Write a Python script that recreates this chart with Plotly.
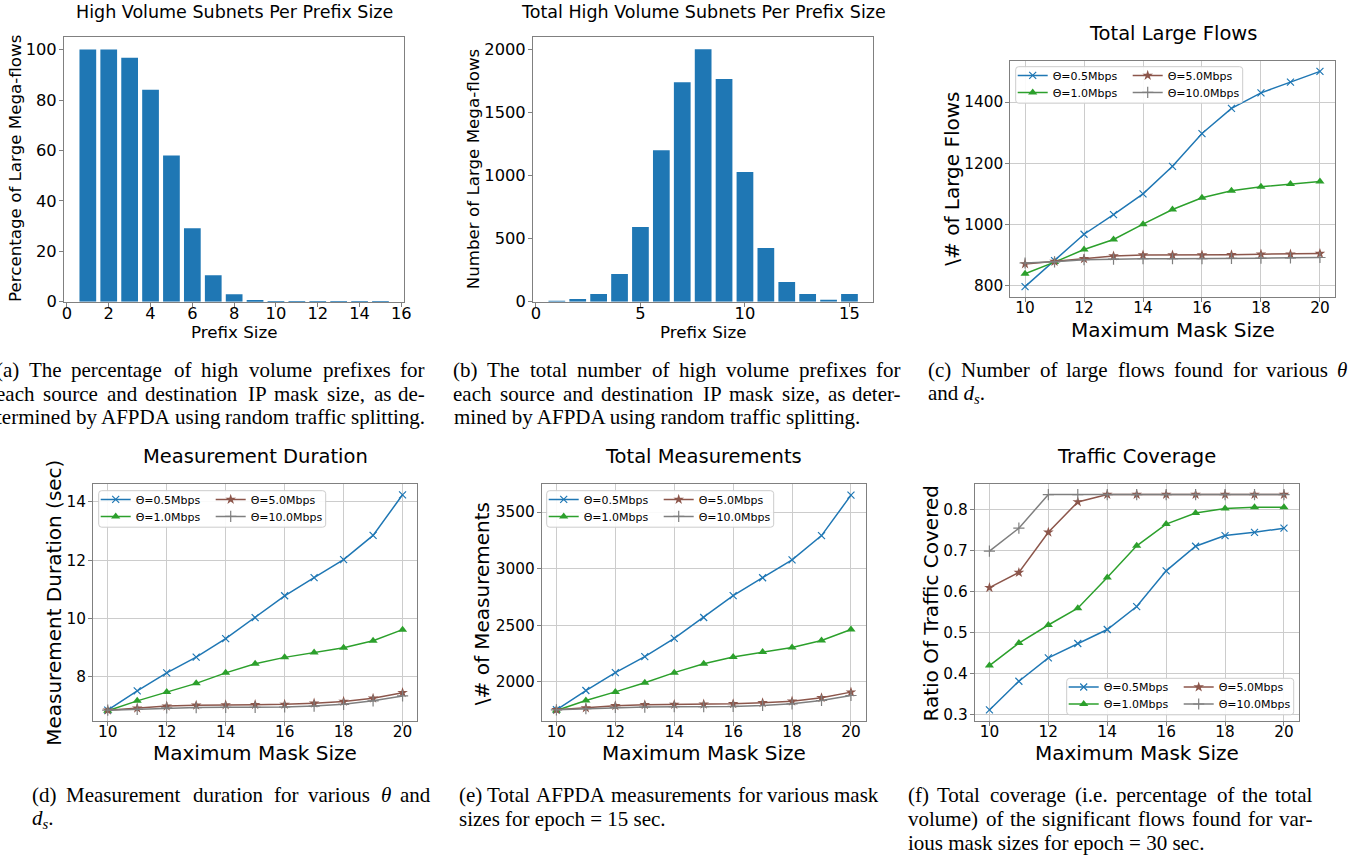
import plotly.graph_objects as go

FIG_W, FIG_H = 1372, 858

# ---------------- data ----------------
prefix_sizes = list(range(1, 16))
pct_large_megaflows = [100, 100, 96.8, 84.1, 58.0, 29.1, 10.5, 3.0, 0.7, 0.2, 0.15, 0.1, 0.1, 0.1, 0.1]
num_large_megaflows = [5, 21, 61, 219, 592, 1201, 1740, 2000, 1764, 1028, 425, 156, 61, 13, 61]

mask_sizes = list(range(10, 21))
theta_names = ["Θ=0.5Mbps", "Θ=1.0Mbps", "Θ=5.0Mbps", "Θ=10.0Mbps"]

flows_05 = [797, 882, 968, 1032, 1100, 1190, 1297, 1379, 1430, 1465, 1500]
flows_10 = [839, 877, 918, 951, 1001, 1049, 1087, 1110, 1123, 1132, 1140]
flows_50 = [871, 879, 888, 897, 900, 900, 900, 901, 903, 903, 905]
flows_100 = [874, 878, 885, 887, 888, 888, 888, 889, 890, 891, 892]

dur_05 = [6.86, 7.52, 8.14, 8.68, 9.31, 10.03, 10.78, 11.40, 12.02, 12.85, 14.24]
dur_10 = [6.84, 7.18, 7.48, 7.78, 8.14, 8.45, 8.67, 8.84, 9.00, 9.24, 9.62]
dur_50 = [6.86, 6.93, 7.00, 7.03, 7.04, 7.05, 7.06, 7.10, 7.16, 7.27, 7.46]
dur_100 = [6.86, 6.89, 6.94, 6.95, 6.96, 6.96, 6.97, 7.00, 7.06, 7.18, 7.35]

meas_05 = [1754, 1924, 2082, 2223, 2384, 2569, 2762, 2920, 3078, 3292, 3649]
meas_10 = [1748, 1836, 1912, 1992, 2082, 2161, 2220, 2264, 2305, 2366, 2463]
meas_50 = [1754, 1771, 1789, 1798, 1800, 1804, 1807, 1816, 1830, 1860, 1910]
meas_100 = [1754, 1763, 1775, 1778, 1781, 1781, 1784, 1792, 1807, 1836, 1880]

cov_05 = [0.312, 0.382, 0.439, 0.474, 0.508, 0.564, 0.651, 0.711, 0.737, 0.745, 0.755]
cov_10 = [0.420, 0.475, 0.519, 0.560, 0.635, 0.712, 0.765, 0.792, 0.803, 0.806, 0.806]
cov_50 = [0.610, 0.647, 0.745, 0.819, 0.837, 0.837, 0.837, 0.837, 0.837, 0.837, 0.837]
cov_100 = [0.699, 0.755, 0.837, 0.837, 0.837, 0.837, 0.837, 0.837, 0.837, 0.837, 0.837]

cap_a = ["(a) The percentage of high volume prefixes for",
         "each source and destination IP mask size, as de-",
         "termined by AFPDA using random traffic splitting."]
cap_b = ["(b) The total number of high volume prefixes for",
         "each source and destination IP mask size, as deter-",
         "mined by AFPDA using random traffic splitting."]
cap_c = ["(c) Number of large flows found for various θ",
         "and d_s."]
cap_d = ["(d) Measurement duration for various θ and",
         "d_s."]
cap_e = ["(e) Total AFPDA measurements for various mask",
         "sizes for epoch = 15 sec."]
cap_f = ["(f) Total coverage (i.e. percentage of the total",
         "volume) of the significant flows found for var-",
         "ious mask sizes for epoch = 30 sec."]

# ---------------- styling ----------------
SANS = "DejaVu Sans"
SERIF = "Liberation Serif"
SPINE = "#808080"
GRID = "#cccccc"
COLORS = ["#1f77b4", "#2ca02c", "#8c564b", "#7f7f7f"]
SYMBOLS = ["x-thin-open", "triangle-up", "star", "cross-thin-open"]
MSIZE = [7, 8, 8, 8]


def X(v):
    return v / FIG_W


def Y(v):
    return 1 - v / FIG_H


# plot boxes in px: left, top, right, bottom
BOX = {
    1: (64, 37, 404.3, 301.7),
    2: (533, 36.7, 873.3, 301.7),
    3: (1010.3, 60.7, 1334.7, 297),
    4: (93, 484.3, 417.3, 721),
    5: (541.7, 484.3, 865.7, 721),
    6: (974.7, 484.3, 1298.7, 721),
}

fig = go.Figure()

# bars
fig.add_trace(go.Bar(x=prefix_sizes, y=pct_large_megaflows, width=0.8,
                     marker=dict(color="#1f77b4", line=dict(width=0)),
                     xaxis="x", yaxis="y", showlegend=False))
fig.add_trace(go.Bar(x=prefix_sizes, y=num_large_megaflows, width=0.8,
                     marker=dict(color="#1f77b4", line=dict(width=0)),
                     xaxis="x2", yaxis="y2", showlegend=False))

line_sets = {
    3: [flows_05, flows_10, flows_50, flows_100],
    4: [dur_05, dur_10, dur_50, dur_100],
    5: [meas_05, meas_10, meas_50, meas_100],
    6: [cov_05, cov_10, cov_50, cov_100],
}


def legend_name(n):
    return "legend" if n == 1 else "legend%d" % n


legend_ids = {k: [legend_name((k - 3) * 4 + i + 1) for i in range(4)] for k in line_sets}

for k, series in line_sets.items():
    for i, vals in enumerate(series):
        c = COLORS[i]
        mk = dict(symbol=SYMBOLS[i], size=MSIZE[i], color=c, line=dict(width=1.2, color=c))
        if SYMBOLS[i] in ("triangle-up", "star"):
            mk["line"] = dict(width=0)
        fig.add_trace(go.Scatter(
            x=mask_sizes, y=vals, mode="lines+markers", name=theta_names[i],
            line=dict(color=c, width=1.5), marker=mk,
            xaxis="x%d" % k, yaxis="y%d" % k,
            legend=legend_ids[k][i],
        ))


# axes
def axcfg(k, tsize, grid, rng, dtick, is_x):
    l, t, r, b = BOX[k]
    d = dict(showline=True, linecolor=SPINE, linewidth=1, mirror=True,
             ticks="outside", ticklen=4, tickwidth=1, tickcolor=SPINE,
             tickfont=dict(family=SANS, size=tsize, color="black"),
             showgrid=grid, gridcolor=GRID, gridwidth=1, zeroline=False,
             range=rng, dtick=dtick, tick0=0, fixedrange=True, automargin=False)
    if is_x:
        d["domain"] = [X(l), X(r)]
        d["anchor"] = "y" if k == 1 else "y%d" % k
        d["ticklabelstandoff"] = -7
    else:
        d["domain"] = [Y(b), Y(t)]
        d["anchor"] = "x" if k == 1 else "x%d" % k
        d["ticklabelstandoff"] = -1
    return d


layout_axes = {
    "xaxis": axcfg(1, 16.3, False, [-0.14, 16.14], 2, True),
    "yaxis": axcfg(1, 16.3, False, [0, 105], 20, False),
    "xaxis2": axcfg(2, 16.3, False, [-0.14, 16.14], 5, True),
    "yaxis2": axcfg(2, 16.3, False, [0, 2100], 500, False),
    "xaxis3": axcfg(3, 15.3, True, [9.5, 20.5], 2, True),
    "yaxis3": axcfg(3, 15.3, True, [763, 1535], 200, False),
    "xaxis4": axcfg(4, 15.3, True, [9.5, 20.5], 2, True),
    "yaxis4": axcfg(4, 15.3, True, [6.49, 14.6], 2, False),
    "xaxis5": axcfg(5, 15.3, True, [9.5, 20.5], 2, True),
    "yaxis5": axcfg(5, 15.3, True, [1655, 3745], 500, False),
    "xaxis6": axcfg(6, 15.3, True, [9.5, 20.5], 2, True),
    "yaxis6": axcfg(6, 15.3, True, [0.285, 0.862], 0.1, False),
}

# legends (one legend per entry, laid out in 2x2 like matplotlib ncol=2) + box
LEG_BOX = {3: (1015.7, 66.7), 4: (98.7, 490.7), 5: (546.7, 490.7), 6: (1066.7, 678.3)}
LEG_COL_X = [-3, -3, 112, 112]      # px offset of legend origin from box left
LEG_ROW_Y = [-5.8, 11.2, -5.8, 11.2]  # px offset of legend top from box top
legends = {}
shapes = []


def rrect(l, t, r, b, rad=3):
    return ("M {a},{b0} L {c},{b0} Q {r},{b0} {r},{d} L {r},{e} Q {r},{bb} {c},{bb} "
            "L {a},{bb} Q {l},{bb} {l},{e} L {l},{d} Q {l},{b0} {a},{b0} Z").format(
        a=X(l + rad), c=X(r - rad), r=X(r), l=X(l), b0=Y(t), bb=Y(b), d=Y(t + rad), e=Y(b - rad))


for k, (bl, bt) in LEG_BOX.items():
    shapes.append(dict(type="path", xref="paper", yref="paper", layer="above",
                       path=rrect(bl, bt, bl + 227, bt + 36.5),
                       fillcolor="rgba(255,255,255,0.9)", line=dict(color="#cccccc", width=1)))
    for i, lid in enumerate(legend_ids[k]):
        legends[lid] = dict(x=X(bl + LEG_COL_X[i]), y=Y(bt + LEG_ROW_Y[i]),
                            xanchor="left", yanchor="top",
                            orientation="v", bgcolor="rgba(0,0,0,0)", borderwidth=0,
                            font=dict(family=SANS, size=11, color="black"),
                            itemwidth=30, tracegroupgap=0)

annotations = []


def ann(x, y, text, size, family=SANS, angle=0, xanchor="center", yanchor="middle"):
    annotations.append(dict(x=X(x), y=Y(y), xref="paper", yref="paper", text=text,
                            showarrow=False, textangle=angle, xanchor=xanchor, yanchor=yanchor,
                            borderpad=0, font=dict(family=family, size=size, color="black")))


# subplot titles
ann(234.2, 12.5, "High Volume Subnets Per Prefix Size", 17.5)
ann(703.2, 12.5, "Total High Volume Subnets Per Prefix Size", 17.5)
ann(1172.5, 33.3, "Total Large Flows", 19.5)
ann(255.2, 456.7, "Measurement Duration", 19.5)
ann(703.7, 456.7, "Total Measurements", 19.5)
ann(1136.7, 456.7, "Traffic Coverage", 19.5)

# axis titles
ann(234.2, 332.3, "Prefix Size", 16.7)
ann(15, 169, "Percentage of Large Mega-flows", 16.7, angle=-90)
ann(703.2, 332.3, "Prefix Size", 16.7)
ann(473.3, 169, "Number of Large Mega-flows", 16.7, angle=-90)
ann(1172.5, 330, "Maximum Mask Size", 20)
ann(951.7, 179, "\\# of Large Flows", 20, angle=-90)
ann(255.2, 753.3, "Maximum Mask Size", 20)
ann(53.3, 602.5, "Measurement Duration (sec)", 20, angle=-90)
ann(703.7, 753.3, "Maximum Mask Size", 20)
ann(481.7, 603.5, "\\# of Measurements", 20, angle=-90)
ann(1136.7, 753.3, "Maximum Mask Size", 20)
ann(930, 603.5, "Ratio Of Traffic Covered", 20, angle=-90)

# captions (justified like the LaTeX source)
TW = {' ': 250, '(': 333, ')': 333, ',': 250, '-': 333, '.': 250, '=': 564, 'θ': 500,
      'A': 722, 'D': 722, 'F': 556, 'I': 333, 'M': 889, 'P': 556, 'T': 611, 'N': 722,
      'a': 444, 'b': 500, 'c': 444, 'd': 500, 'e': 444, 'f': 333, 'g': 500, 'h': 500,
      'i': 278, 'j': 278, 'k': 500, 'l': 278, 'm': 778, 'n': 500, 'o': 500, 'p': 500,
      'q': 500, 'r': 333, 's': 389, 't': 278, 'u': 500, 'v': 500, 'w': 722, 'x': 500,
      'y': 500, 'z': 444}
CAP = 21
RENDER_SCALE = 1.03  # browser text comes out slightly wider than the nominal metrics


def tw(s):
    return sum(TW.get(ch, 500) for ch in s) * CAP / 1000 * RENDER_SCALE


def fmt(s):
    return s.replace("θ", "<i>θ</i>").replace("d_s", "<i>d</i><sub><i>s</i></sub>")


def caption(lines, left, right, ys, just):
    for line, y, j in zip(lines, ys, just):
        if j:
            words = line.split(" ")
            ws = [tw(w) for w in words]
            gap = (right - left - sum(ws)) / (len(words) - 1)
            x = left
            for i, w in enumerate(words):
                if i == len(words) - 1:
                    ann(right, y, fmt(w), CAP, SERIF, xanchor="right")
                else:
                    ann(x, y, fmt(w), CAP, SERIF, xanchor="left")
                x += ws[i] + gap
        else:
            ann(left, y, fmt(line), CAP, SERIF, xanchor="left")


R1 = [369.5, 393.5, 417.5]
R2 = [794.5, 818.5, 842.5]
caption(cap_a, -5.5, 426, R1, [True, True, True])
caption(cap_b, 452.5, 902, R1, [True, True, False])
caption(cap_c, 927.5, 1348, R1, [True, False])
caption(cap_d, 30.5, 431.5, R2, [True, False])
caption(cap_e, 458.3, 879.5, R2, [True, False])
caption(cap_f, 907.3, 1312.7, R2, [True, True, False])

fig.update_layout(
    width=FIG_W, height=FIG_H, margin=dict(l=0, r=0, t=0, b=0, autoexpand=False),
    paper_bgcolor="white", plot_bgcolor="white",
    annotations=annotations, shapes=shapes,
    **layout_axes, **legends,
)

fig.write_html("out.html", config={"displayModeBar": False},
               post_script="document.body.style.margin='0';document.body.style.overflow='hidden';")
